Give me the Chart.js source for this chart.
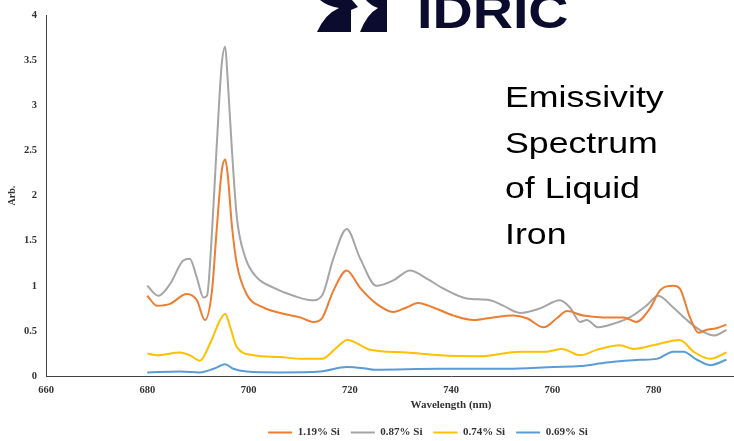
<!DOCTYPE html>
<html>
<head>
<meta charset="utf-8">
<script src="https://cdn.jsdelivr.net/npm/chart.js@4"></script>
<style>
  html, body { margin: 0; padding: 0; width: 734px; height: 441px; overflow: hidden; background: #fff; }
  #wrap { position: absolute; left: 0; top: 0; width: 872px; height: 441px; }
  #logoText { position: absolute; left: 417px; top: -12px; font-family: "Liberation Sans", Arial, sans-serif; font-weight: bold; font-size: 48px; color: #0b0b2e; line-height: 1; transform-origin: 0 0; transform: scaleX(1.16); white-space: nowrap; }
  #title { position: absolute; left: 505px; top: 74px; font-family: "Liberation Sans", Arial, sans-serif; font-size: 30px; line-height: 45.5px; color: #000; transform-origin: 0 0; transform: scaleX(1.19); white-space: nowrap; }
  #logoIcon { position: absolute; left: 0; top: 0; }
</style>
</head>
<body>
<div id="wrap"><canvas id="c" width="872" height="441"></canvas></div>
<svg id="logoIcon" width="734" height="441" style="pointer-events:none">
  <path d="M320,0 L352,0 L358,7 L351,10 L351,32 L317,32 Q325,14 339,8 Q327,6 320,0 Z" fill="#0b0b2e"/>
  <path d="M366,0 L387,0 L387,32 L360,32 Q367,14 378,8 Q370,5 366,0 Z" fill="#0b0b2e"/>
</svg>
<div id="logoText">IDRIC</div>
<div id="title">Emissivity<br>Spectrum<br>of Liquid<br>Iron</div>
<script>
const seriesLabels = ['1.19% Si', '0.87% Si', '0.74% Si', '0.69% Si'];
const seriesColors = ['#ED7D31', '#A5A5A5', '#FFC000', '#5B9BD5'];

const wl119 = [680.0,681.9,684.5,687.8,689.8,691.4,692.8,693.7,694.7,695.4,695.9,696.7,697.7,699.6,702.9,706.9,710.2,712.8,714.5,716.8,719.4,722.0,725.3,728.6,731.2,733.5,736.5,740.5,744.5,748.3,752.3,755.0,758.3,760.9,762.9,766.1,770.1,774.1,776.6,779.3,781.3,783.9,785.2,787.2,788.9,790.4,792.4,794.4];
const val119 = [0.89,0.78,0.80,0.91,0.84,0.62,0.95,1.61,2.27,2.40,2.23,1.68,1.24,0.91,0.76,0.69,0.65,0.60,0.64,0.95,1.17,0.98,0.80,0.71,0.76,0.81,0.76,0.67,0.62,0.65,0.67,0.64,0.54,0.64,0.72,0.67,0.65,0.65,0.60,0.75,0.95,1.00,0.97,0.65,0.48,0.51,0.53,0.57];

const wl087 = [680.0,682.2,684.5,687.1,688.4,689.8,691.1,691.8,692.8,693.7,694.7,695.4,695.8,696.7,697.7,699.4,701.7,704.9,708.9,712.5,714.5,716.8,719.4,722.0,725.3,728.6,731.9,735.2,738.5,743.1,747.7,750.3,753.6,757.6,761.5,763.5,765.5,766.8,769.1,772.1,775.3,778.6,780.9,783.9,786.6,789.2,792.1,794.4];
const val087 = [1.00,0.89,1.02,1.28,1.30,1.09,0.87,0.89,1.61,2.53,3.45,3.65,3.37,2.53,1.76,1.31,1.09,0.98,0.89,0.84,0.89,1.31,1.63,1.31,1.00,1.06,1.17,1.08,0.97,0.86,0.84,0.78,0.70,0.75,0.84,0.76,0.60,0.62,0.54,0.58,0.65,0.78,0.89,0.76,0.62,0.51,0.45,0.51];

const wl074 = [680.0,681.9,686.4,688.4,690.4,692.4,694.4,695.4,696.4,697.7,701.0,706.2,710.9,714.5,717.5,719.5,722.8,724.0,731.2,737.8,745.8,753.6,758.9,761.9,765.5,768.8,773.4,776.1,779.9,785.2,787.9,791.2,794.4];
const val074 = [0.25,0.23,0.26,0.23,0.17,0.36,0.62,0.69,0.54,0.32,0.23,0.21,0.19,0.19,0.32,0.40,0.32,0.29,0.26,0.23,0.22,0.27,0.27,0.30,0.23,0.29,0.34,0.30,0.34,0.40,0.27,0.19,0.26];

const wl069 = [680.0,686.4,690.4,693.1,695.4,697.0,699.6,706.2,714.2,719.4,723.5,724.8,737.8,751.0,760.3,765.5,770.8,777.3,780.6,783.9,785.9,788.6,791.2,794.4];
const val069 = [0.04,0.05,0.04,0.08,0.13,0.08,0.05,0.04,0.05,0.10,0.08,0.07,0.08,0.08,0.10,0.11,0.15,0.18,0.19,0.27,0.27,0.18,0.12,0.18];

const xTicksMin = 660, xTicksMax = 820, xStep = 20;
const yTicksMin = 0, yTicksMax = 4, yStep = 0.5;
const xTitle = 'Wavelength (nm)';
const yTitle = 'Arb.';

const wls = [wl119, wl087, wl074, wl069];
const vals = [val119, val087, val074, val069];

const datasets = seriesLabels.map((lab, i) => ({
  label: lab,
  data: wls[i].map((x, j) => ({x: x, y: vals[i][j]})),
  borderColor: seriesColors[i],
  backgroundColor: seriesColors[i],
  borderWidth: 2,
  pointRadius: 0,
  cubicInterpolationMode: 'monotone',
  fill: false
}));

const serif = '"Liberation Serif", "Times New Roman", serif';

new Chart(document.getElementById('c'), {
  type: 'line',
  data: { datasets: datasets },
  options: {
    responsive: false,
    animation: false,
    devicePixelRatio: 1,
    layout: { padding: { top: 13, right: 16, bottom: -7, left: 0 } },
    plugins: {
      tooltip: { enabled: false },
      legend: {
        position: 'bottom',
        labels: {
          boxWidth: 24,
          boxHeight: 2,
          padding: 11,
          color: '#333',
          font: { family: serif, size: 11, weight: 'bold' },
          generateLabels: (chart) => Chart.defaults.plugins.legend.labels.generateLabels(chart).map(it => Object.assign(it, { lineWidth: 0 }))
        }
      }
    },
    scales: {
      x: {
        type: 'linear',
        min: xTicksMin, max: xTicksMax,
        grid: { display: false, drawTicks: false },
        border: { display: true, color: '#404040', width: 1 },
        ticks: { stepSize: xStep, padding: 8, color: '#333', font: { family: serif, size: 10.5, weight: 'bold' }, maxRotation: 0, callback: (v) => String(v) },
        title: { display: true, text: xTitle, color: '#333', font: { family: serif, size: 11, weight: 'bold' }, padding: { top: 0, bottom: 4 } },
        afterFit: (s) => { s.height = 40; }
      },
      y: {
        min: yTicksMin, max: yTicksMax,
        grid: { display: false, drawTicks: false },
        border: { display: true, color: '#404040', width: 1 },
        ticks: { stepSize: yStep, padding: 9, color: '#333', font: { family: serif, size: 10.5, weight: 'bold' }, callback: (v) => String(v) },
        title: { display: true, text: yTitle, color: '#333', font: { family: serif, size: 10, weight: 'bold' }, padding: { top: 6, bottom: 0 } },
        afterFit: (s) => { s.width = 46; }
      }
    }
  }
});
</script>
</body>
</html>
